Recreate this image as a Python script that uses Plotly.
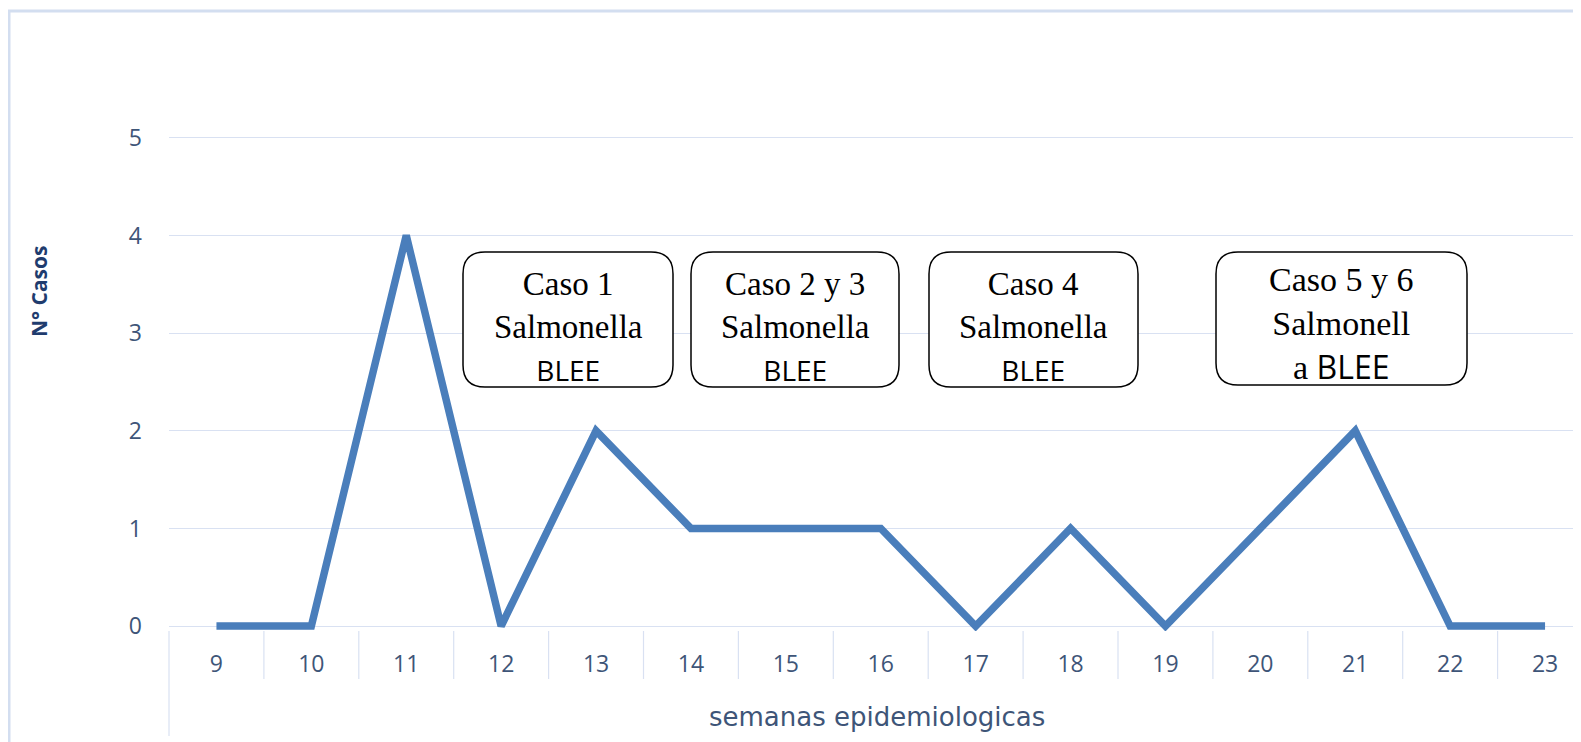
import plotly.graph_objects as go

# ---- data ----
semanas = ["9", "10", "11", "12", "13", "14", "15", "16", "17", "18", "19", "20", "21", "22", "23"]
casos = [0, 0, 4, 0, 2, 1, 1, 1, 0, 1, 0, 1, 2, 0, 0]
y_ticks = [0, 1, 2, 3, 4, 5]

box_texts = [
    "Caso 1<br>Salmonella<br><span style='font-family:Open Sans;font-size:28px'>BLEE</span>",
    "Caso 2 y 3<br>Salmonella<br><span style='font-family:Open Sans;font-size:28px'>BLEE</span>",
    "Caso 4<br>Salmonella<br><span style='font-family:Open Sans;font-size:28px'>BLEE</span>",
    "Caso 5 y 6<br>Salmonell<br>a <span style='font-family:Open Sans;font-size:32px'>BLEE</span>",
]

# ---- layout geometry (page pixels; the page body has an 8px margin) ----
OFF = 8
FIG_W, FIG_H = 1581 - OFF, 742 - OFF
L, R, T, B = 169, 1581, 89, 631          # plot area in page pixels
W, H = R - L, B - T


def px(x):
    return (x - L) / W


def py(y):
    return (B - y) / H


def rounded_rect(x0, y0, x1, y1, r):
    rx, ry = r / W, r / H
    X0, X1 = px(x0), px(x1)
    Yt, Yb = py(y0), py(y1)
    return (f"M {X0+rx},{Yt} L {X1-rx},{Yt} Q {X1},{Yt} {X1},{Yt-ry} "
            f"L {X1},{Yb+ry} Q {X1},{Yb} {X1-rx},{Yb} "
            f"L {X0+rx},{Yb} Q {X0},{Yb} {X0},{Yb+ry} "
            f"L {X0},{Yt-ry} Q {X0},{Yt} {X0+rx},{Yt} Z")


boxes_px = [(463, 252, 673, 387), (691, 252, 899, 387), (929, 252, 1138, 387), (1216, 252, 1467, 385)]
text_px = [(568, 327, 33), (795, 327, 33), (1033, 327, 33), (1341, 324, 34)]

tick_color = "#3e5578"
grid_color = "#d9e1f2"

fig = go.Figure()
fig.add_trace(go.Scatter(
    x=list(range(len(semanas))), y=casos, mode="lines",
    line=dict(color="#4a7ebb", width=7.5),
    hoverinfo="skip", showlegend=False,
))

shapes = [
    # outer chart border
    dict(type="rect", xref="paper", yref="paper", x0=px(9), x1=px(1650), y0=py(800), y1=py(11),
         line=dict(color="#d3def0", width=3), fillcolor="rgba(0,0,0,0)", layer="below"),
    # left boundary of category axis area
    dict(type="line", xref="paper", yref="paper", x0=0, x1=0, y0=0, y1=py(736),
         line=dict(color=grid_color, width=1.2)),
]
# category separators (at boundaries between categories)
for i in range(len(semanas)):
    shapes.append(dict(type="line", xref="x", yref="paper", x0=i + 0.5, x1=i + 0.5, y0=0, y1=py(679),
                       line=dict(color=grid_color, width=1.2)))
for (x0, y0, x1, y1) in boxes_px:
    shapes.append(dict(type="path", xref="paper", yref="paper", path=rounded_rect(x0, y0, x1, y1, 22),
                       line=dict(color="black", width=1.5), fillcolor="white"))

annotations = []
for txt, (cx, cy, fs) in zip(box_texts, text_px):
    annotations.append(dict(xref="paper", yref="paper", x=px(cx), y=py(cy), text=txt, showarrow=False,
                            xanchor="center", yanchor="middle", align="center",
                            font=dict(family="Liberation Serif", size=fs, color="black")))
annotations.append(dict(xref="paper", yref="paper", x=px(39), y=py(292), text="<b>N° Casos</b>",
                        textangle=-90, showarrow=False, xanchor="center", yanchor="middle",
                        font=dict(family="Open Sans", size=21, color="#1f3c6e")))
annotations.append(dict(xref="paper", yref="paper", x=px(877), y=py(717), text="semanas epidemiologicas",
                        showarrow=False, xanchor="center", yanchor="middle",
                        font=dict(family="DejaVu Sans", size=26, color=tick_color)))

fig.update_layout(
    width=FIG_W, height=FIG_H,
    margin=dict(l=L - OFF, r=FIG_W - (R - OFF), t=T - OFF, b=FIG_H - (B - OFF), pad=0),
    paper_bgcolor="white", plot_bgcolor="white",
    shapes=shapes, annotations=annotations,
    xaxis=dict(
        tickmode="array", tickvals=list(range(len(semanas))), ticktext=semanas,
        range=[-0.5, -0.5 + W / 94.9], showgrid=False, zeroline=False, showline=False,
        ticks="", ticklabelstandoff=17,
        tickfont=dict(family="Open Sans", size=23, color=tick_color),
        fixedrange=True,
    ),
    yaxis=dict(
        range=[-0.05, 5.5], tickmode="array", tickvals=y_ticks,
        showgrid=True, gridcolor=grid_color, gridwidth=1.2,
        zeroline=True, zerolinecolor=grid_color, zerolinewidth=1.2,
        showline=False, ticks="", ticklabelstandoff=26,
        tickfont=dict(family="Open Sans", size=23, color=tick_color),
        fixedrange=True,
    ),
)

fig.write_html("out.html")
